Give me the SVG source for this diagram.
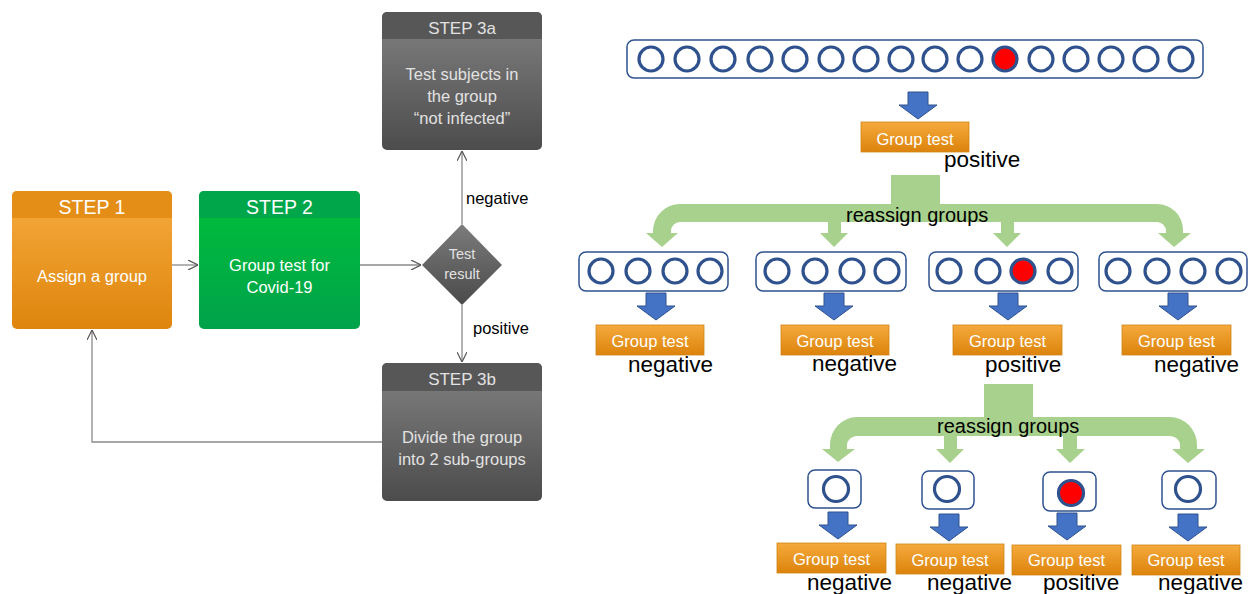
<svg xmlns="http://www.w3.org/2000/svg" width="1249" height="594" viewBox="0 0 1249 594">
<defs>
<style>
text{font-family:"Liberation Sans",Arial,sans-serif}
.wt{fill:#ffffff;text-anchor:middle}
.gt{fill:#e2e2e2;text-anchor:middle}
.lbl{fill:#000;font-size:16.5px}
.res{fill:#000;font-size:22.5px}
.conn{fill:none;stroke:#8a8a8a;stroke-width:1.3}
.grp{fill:#fff;stroke:#2f528f;stroke-width:1.5}
.c{fill:#fff;stroke:#2f528f;stroke-width:3.2}
.cr{fill:#ff0000;stroke:#2f528f;stroke-width:3.2}
.ob{fill:url(#gOrangeBox);stroke:#d08418;stroke-width:0.8}
.ot{fill:#fff;font-size:16.5px;text-anchor:middle}
.ba{fill:#4472c4;stroke:#2f528f;stroke-width:1}
.green{fill:#a9d18e}
</style>
<linearGradient id="gOrange" x1="0" y1="0" x2="0" y2="1"><stop offset="0" stop-color="#f6ab3f"/><stop offset="1" stop-color="#de850c"/></linearGradient>
<linearGradient id="gOrangeBox" x1="0" y1="0" x2="0" y2="1"><stop offset="0" stop-color="#f5aa3c"/><stop offset="1" stop-color="#dc830b"/></linearGradient>
<linearGradient id="gGreen" x1="0" y1="0" x2="0" y2="1"><stop offset="0" stop-color="#00c03a"/><stop offset="1" stop-color="#00a24a"/></linearGradient>
<linearGradient id="gGray" x1="0" y1="0" x2="0" y2="1"><stop offset="0" stop-color="#828282"/><stop offset="1" stop-color="#4c4c4c"/></linearGradient>
<linearGradient id="gDia" x1="0" y1="0" x2="0" y2="1"><stop offset="0" stop-color="#7c7c7c"/><stop offset="1" stop-color="#4a4a4a"/></linearGradient>
<marker id="open" viewBox="0 0 10 10" refX="10" refY="5" markerWidth="10" markerHeight="10" markerUnits="userSpaceOnUse" orient="auto">
<path d="M0,0 L10,5 L0,10" fill="none" stroke="#555" stroke-width="1.2"/>
</marker>
<path id="blueArrow" d="M-10,0 H10 V13 H19 L0,27 L-19,13 H-10 Z"/>
</defs>
<rect width="1249" height="594" fill="#fff"/>

<!-- Left flowchart connectors -->
<g id="connectors">
<line class="conn" x1="172" y1="265" x2="198" y2="265" marker-end="url(#open)"/>
<line class="conn" x1="360" y1="265" x2="421" y2="265" marker-end="url(#open)"/>
<line class="conn" x1="462" y1="224" x2="462" y2="151" marker-end="url(#open)"/>
<line class="conn" x1="462" y1="305" x2="462" y2="362" marker-end="url(#open)"/>
<polyline class="conn" points="382,442 92,442 92,330" marker-end="url(#open)"/>
<text class="lbl" x="466" y="204">negative</text>
<text class="lbl" x="473" y="334">positive</text>
</g>

<g id="step1">
<rect x="12" y="191" width="160" height="138" rx="5" fill="url(#gOrange)"/>
<path d="M12,218 V196 A5,5 0 0 1 17,191 H167 A5,5 0 0 1 172,196 V218 Z" fill="#e48e18"/>
<text class="wt" x="92" y="214" font-size="19.5">STEP 1</text>
<text class="wt" x="92" y="282" font-size="16.5">Assign a group</text>
</g>

<g id="step2">
<rect x="199" y="191" width="161" height="138" rx="5" fill="url(#gGreen)"/>
<path d="M199,218 V196 A5,5 0 0 1 204,191 H355 A5,5 0 0 1 360,196 V218 Z" fill="#00a64a"/>
<text class="wt" x="279.5" y="214" font-size="19.5">STEP 2</text>
<text class="wt" x="279.5" y="271" font-size="16.5">Group test for</text>
<text class="wt" x="279.5" y="293" font-size="16.5">Covid-19</text>
</g>

<g id="step3a">
<rect x="382" y="12" width="160" height="138" rx="5" fill="url(#gGray)"/>
<path d="M382,39 V17 A5,5 0 0 1 387,12 H537 A5,5 0 0 1 542,17 V39 Z" fill="#575757"/>
<text class="gt" x="462" y="34" font-size="17">STEP 3a</text>
<text class="gt" x="462" y="80" font-size="16.5">Test subjects in</text>
<text class="gt" x="462" y="102" font-size="16.5">the group</text>
<text class="gt" x="462" y="124" font-size="16.5">“not infected”</text>
</g>

<g id="decision">
<polygon points="462,224 502,265 462,305 422,265" fill="url(#gDia)"/>
<text class="gt" x="462" y="259" font-size="14.5">Test</text>
<text class="gt" x="462" y="279" font-size="14.5">result</text>
</g>

<g id="step3b">
<rect x="382" y="363" width="160" height="138" rx="5" fill="url(#gGray)"/>
<path d="M382,391 V368 A5,5 0 0 1 387,363 H537 A5,5 0 0 1 542,368 V391 Z" fill="#575757"/>
<text class="gt" x="462" y="385" font-size="17">STEP 3b</text>
<text class="gt" x="462" y="443" font-size="16.5">Divide the group</text>
<text class="gt" x="462" y="465" font-size="16.5">into 2 sub-groups</text>
</g>

<!-- Right side: group testing tree -->
<g id="row0">
<rect class="grp" x="627" y="40" width="576" height="38" rx="7"/>
<circle class="c" cx="651" cy="59" r="12"/>
<circle class="c" cx="687" cy="59" r="12"/>
<circle class="c" cx="723" cy="59" r="12"/>
<circle class="c" cx="760" cy="59" r="12"/>
<circle class="c" cx="795" cy="59" r="12"/>
<circle class="c" cx="831" cy="59" r="12"/>
<circle class="c" cx="866" cy="59" r="12"/>
<circle class="c" cx="901" cy="59" r="12"/>
<circle class="c" cx="935" cy="59" r="12"/>
<circle class="c" cx="970" cy="59" r="12"/>
<circle class="cr" cx="1005" cy="59" r="12"/>
<circle class="c" cx="1041" cy="59" r="12"/>
<circle class="c" cx="1076" cy="59" r="12"/>
<circle class="c" cx="1111" cy="59" r="12"/>
<circle class="c" cx="1146" cy="59" r="12"/>
<circle class="c" cx="1181" cy="59" r="12"/>
<use href="#blueArrow" class="ba" x="918" y="92"/>
<rect class="ob" x="861" y="122" width="108" height="30"/>
<text class="ot" x="915" y="145">Group test</text>
<text class="res" x="944" y="167">positive</text>
</g>

<g id="split1">
<path class="green" d="M891,175 H940 V204 H1157 A26,26 0 0 1 1183,230 V233 H1191 L1174,247 L1158,233 H1166 V231 A9,9 0 0 0 1157,222 H1014 V233 H1021 L1007,247 L993,233 H1001 V222 H841 V233 H848 L834,247 L820,233 H828 V222 H680 A9,9 0 0 0 671,231 V233 H678 L662,247 L646,233 H653 V231 A27,27 0 0 1 680,204 H891 Z"/>
<text x="846" y="222" font-size="20" fill="#000">reassign groups</text>
</g>

<g id="groupA">
<rect class="grp" x="579" y="252" width="149" height="39" rx="7"/>
<circle class="c" cx="601" cy="271" r="12"/>
<circle class="c" cx="638" cy="271" r="12"/>
<circle class="c" cx="675" cy="271" r="12"/>
<circle class="c" cx="710" cy="271" r="12"/>
<use href="#blueArrow" class="ba" x="656" y="293"/>
<rect class="ob" x="596" y="325" width="108" height="30"/>
<text class="ot" x="650" y="347">Group test</text>
<text class="res" x="628" y="372">negative</text>
</g>

<g id="groupB">
<rect class="grp" x="756" y="252" width="150" height="39" rx="7"/>
<circle class="c" cx="777" cy="271" r="12"/>
<circle class="c" cx="815" cy="271" r="12"/>
<circle class="c" cx="852" cy="271" r="12"/>
<circle class="c" cx="887" cy="271" r="12"/>
<use href="#blueArrow" class="ba" x="834" y="293"/>
<rect class="ob" x="781" y="325" width="108" height="30"/>
<text class="ot" x="835" y="347">Group test</text>
<text class="res" x="812" y="371">negative</text>
</g>

<g id="groupC">
<rect class="grp" x="929" y="252" width="149" height="39" rx="7"/>
<circle class="c" cx="949" cy="271" r="12"/>
<circle class="c" cx="988" cy="271" r="12"/>
<circle class="cr" cx="1023" cy="271" r="12"/>
<circle class="c" cx="1060" cy="271" r="12"/>
<use href="#blueArrow" class="ba" x="1008" y="293"/>
<rect class="ob" x="953" y="325" width="109" height="30"/>
<text class="ot" x="1007.5" y="347">Group test</text>
<text class="res" x="985" y="372">positive</text>
</g>

<g id="groupD">
<rect class="grp" x="1099" y="252" width="148" height="39" rx="7"/>
<circle class="c" cx="1118" cy="271" r="12"/>
<circle class="c" cx="1157" cy="271" r="12"/>
<circle class="c" cx="1193" cy="271" r="12"/>
<circle class="c" cx="1229" cy="271" r="12"/>
<use href="#blueArrow" class="ba" x="1178" y="293"/>
<rect class="ob" x="1122" y="325" width="109" height="30"/>
<text class="ot" x="1176.5" y="347">Group test</text>
<text class="res" x="1154" y="372">negative</text>
</g>

<g id="split2">
<path class="green" d="M984,384 H1033 V417 H1170 A27,28 0 0 1 1197,445 V449 H1205 L1188,463 L1172,449 H1180 V445 A10,9 0 0 0 1170,436 H1077 V449 H1085 L1070,463 L1056,449 H1063 V436 H957 V449 H964 L950,463 L936,449 H944 V436 H857 A10,9 0 0 0 847,445 V449 H855 L838,462 L822,449 H830 V445 A27,28 0 0 1 857,417 H984 Z"/>
<text x="937" y="433" font-size="20" fill="#000">reassign groups</text>
</g>

<g id="single1">
<rect class="grp" x="808" y="470" width="53" height="38" rx="7"/>
<circle class="c" cx="836" cy="489" r="12.5"/>
<use href="#blueArrow" class="ba" x="838" y="512"/>
<rect class="ob" x="777" y="543" width="109" height="30"/>
<text class="ot" x="831.5" y="565">Group test</text>
<text class="res" x="807" y="590">negative</text>
</g>

<g id="single2">
<rect class="grp" x="922" y="471" width="52" height="38" rx="7"/>
<circle class="c" cx="947" cy="489" r="12.5"/>
<use href="#blueArrow" class="ba" x="949" y="514"/>
<rect class="ob" x="896" y="544" width="108" height="30"/>
<text class="ot" x="950" y="566">Group test</text>
<text class="res" x="927" y="590">negative</text>
</g>

<g id="single3">
<rect class="grp" x="1043" y="472" width="53" height="39" rx="7"/>
<circle class="cr" cx="1071" cy="493" r="12.5"/>
<use href="#blueArrow" class="ba" x="1067" y="513"/>
<rect class="ob" x="1012" y="545" width="109" height="30"/>
<text class="ot" x="1066.5" y="566">Group test</text>
<text class="res" x="1043" y="590">positive</text>
</g>

<g id="single4">
<rect class="grp" x="1162" y="471" width="54" height="38" rx="7"/>
<circle class="c" cx="1188" cy="489" r="12.5"/>
<use href="#blueArrow" class="ba" x="1188" y="514"/>
<rect class="ob" x="1132" y="545" width="108" height="30"/>
<text class="ot" x="1186" y="566">Group test</text>
<text class="res" x="1158" y="590">negative</text>
</g>
</svg>
